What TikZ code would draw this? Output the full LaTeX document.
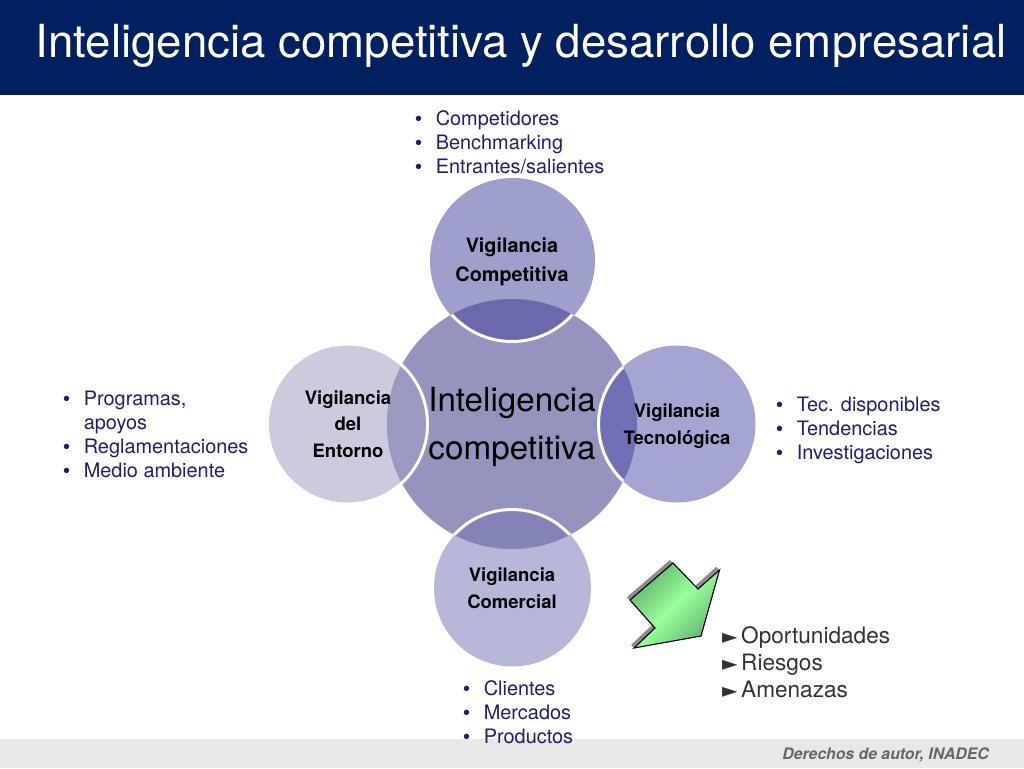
\documentclass[tikz,border=0pt]{standalone}
\usepackage{fontspec}
\setmainfont{TeX Gyre Heros}
\newfontfamily\symf{DejaVu Sans}
\newfontfamily\bulf{Liberation Sans}
\definecolor{navy}{HTML}{002060}
\definecolor{bullet}{HTML}{1F1F70}
\definecolor{cc}{HTML}{9494BE}
\definecolor{ct}{HTML}{9E9FCB}
\definecolor{cr}{HTML}{A5A5D3}
\definecolor{cb}{HTML}{B7B7D9}
\definecolor{cl}{HTML}{CBCBDD}
\definecolor{ot}{HTML}{6A69AB}
\definecolor{orr}{HTML}{7070B4}
\definecolor{ob}{HTML}{8383B6}
\definecolor{ol}{HTML}{9A9AC0}
\definecolor{lite}{HTML}{99FF99}
\definecolor{edgeg}{HTML}{62B470}
\tikzset{
  x=1pt,y=-1pt,
  sat/.style={circle,minimum size=#1,inner sep=0pt,text=black},
  lab/.style={font=\bfseries\fontsize{18.5}{26.5}\selectfont,align=center,text=black},
  bl/.style={anchor=north west,align=left,text=bullet,inner sep=0pt,font=\fontsize{19.9}{24}\selectfont},
  ringw/.style={white,line width=3pt},
}
\newcommand{\bitem}[1]{\makebox[20.6pt][l]{\bulf •}#1}
\newcommand{\tri}{\makebox[19pt][l]{{\symf\fontsize{20}{20}\selectfont ►}}}
\begin{document}
\begin{tikzpicture}
\useasboundingbox (0,0) rectangle (1024,768);
\fill[white] (0,0) rectangle (1024,768);
\fill[navy] (0,0) rectangle (1024,95);
\fill[black!9] (0,739) rectangle (1024,768);
\node[anchor=base west,inner sep=0pt,text=white,font=\fontsize{45.6}{54}\selectfont] (title) at (35.5,58) {Inteligencia competitiva y desarrollo empresarial};
% circles
\node[sat=165pt,fill=ct] (top) at (512.5,260.5) {};
\node[sat=157pt,fill=cr] (right) at (677,424) {};
\node[sat=157pt,fill=cb] (bottom) at (512.5,588) {};
\node[sat=157pt,fill=cl] (left) at (347.5,424) {};
\fill[cc] (512,424) circle (125);
% overlaps
\begin{scope}
\clip (512,424) circle (125);
\fill[ot] (512,260.5) circle (81);
\fill[orr] (677,424) circle (78);
\fill[ob] (512,588) circle (78);
\fill[ol] (347,424) circle (78);
\draw[ringw] (512,260.5) circle (81) (677,424) circle (78.5) (512,588) circle (78.5) (347,424) circle (80.5);
\end{scope}
\node[lab,font=\bfseries\fontsize{19.8}{29}\selectfont] (tl) at (512,262) {Vigilancia\\Competitiva};
\node[lab] (rl) at (677,426) {Vigilancia\\Tecnológica};
\node[lab] (bl2) at (512,588) {Vigilancia\\Comercial};
\node[lab] (ll) at (348,424) {Vigilancia\\del\\Entorno};
\node[align=center,text=black,font=\fontsize{33.2}{48}\selectfont] (cl2) at (512,427) {Inteligencia\\competitiva};
% bullets
\node[bl] (b1) at (415,110) {\bitem{Competidores}\\\bitem{Benchmarking}\\\bitem{Entrantes/salientes}};
\node[bl] (b2) at (776,397) {\bitem{Tec. disponibles}\\\bitem{Tendencias}\\\bitem{Investigaciones}};
\node[bl] (b3) at (463,680) {\bitem{Clientes}\\\bitem{Mercados}\\\bitem{Productos}};
\node[bl] (b4) at (63,391) {\bitem{Programas,}\\\hspace*{20.6pt}apoyos\\\bitem{Reglamentaciones}\\\bitem{Medio ambiente}};
% arrow
\fill[black!45] (627,597) -- (670,560) -- (695,586) -- (716,567) -- (720,570) -- (701,636) -- (634,648) -- (631,645) -- (652,625) -- cycle;
\draw[black,line width=1.1pt,left color=edgeg,right color=edgeg,middle color=lite,shading angle=45] (630,600) -- (673,563) -- (698,589) -- (719.5,570) -- (701,636) -- (634,648) -- (655,628) -- cycle;
% list
\node[anchor=north west,inner sep=0pt,align=left,text=black!80,font=\fontsize{22.6}{27.4}\selectfont] (ops) at (722,626) {\tri Oportunidades\\\tri Riesgos\\\tri Amenazas};
\node[anchor=base east,inner sep=0pt,text=black!60,font=\bfseries\itshape\fontsize{15.8}{18}\selectfont] (foot) at (989,759) {Derechos de autor, INADEC};
\end{tikzpicture}
\end{document}
